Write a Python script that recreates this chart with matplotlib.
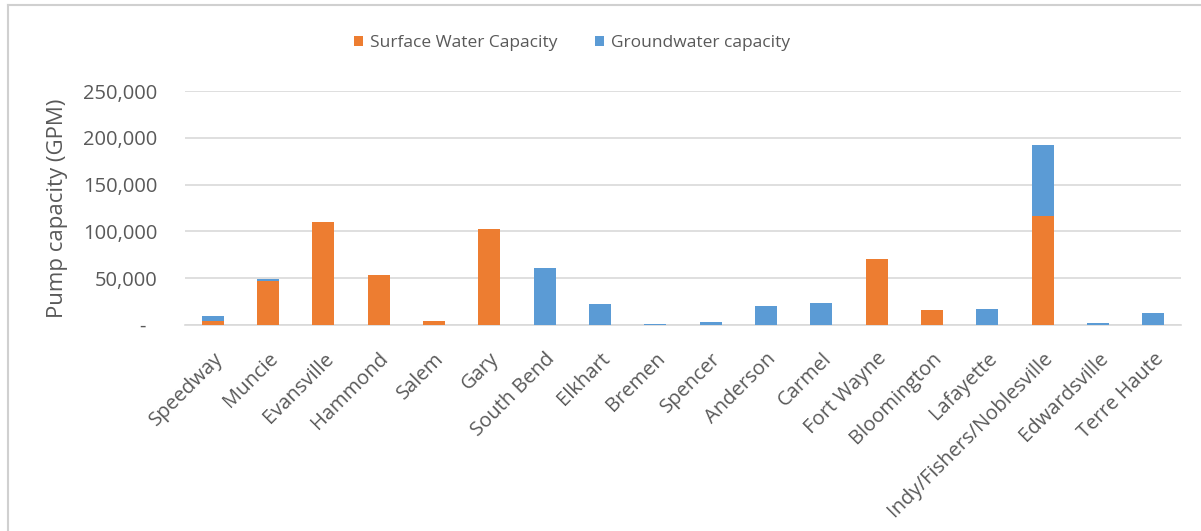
import numpy as np
import matplotlib.pyplot as plt
from matplotlib.ticker import FuncFormatter
from matplotlib.lines import Line2D

cities = ["Speedway", "Muncie", "Evansville", "Hammond", "Salem", "Gary",
          "South Bend", "Elkhart", "Bremen", "Spencer", "Anderson", "Carmel",
          "Fort Wayne", "Bloomington", "Lafayette", "Indy/Fishers/Noblesville",
          "Edwardsville", "Terre Haute"]
surface = [4000, 47000, 110000, 53000, 4000, 103000,
           0, 0, 0, 0, 0, 0,
           71000, 16000, 0, 116000,
           0, 0]
ground = [5500, 2000, 0, 0, 0, 0,
          61000, 22000, 1500, 3300, 19800, 23500,
          0, 0, 17000, 76500,
          2000, 12800]
yticks = [0, 50000, 100000, 150000, 200000, 250000]

ORANGE = "#ED7D31"
BLUE = "#5B9BD5"
TXT = "#595959"

plt.rcParams['font.family'] = ['Open Sans', 'DejaVu Sans']

fig = plt.figure(figsize=(12.01, 5.31), dpi=100)
ax = fig.add_axes([185/1201, 1-325/531, (1181-185)/1201, (325-91)/531])

x = np.arange(len(cities))
ax.bar(x, surface, width=0.4, color=ORANGE, label="Surface Water Capacity", zorder=3)
ax.bar(x, ground, width=0.4, bottom=surface, color=BLUE, label="Groundwater capacity", zorder=3)

ax.set_xlim(-0.5, len(cities)-0.5)
ax.set_ylim(0, 250000)
ax.set_yticks(yticks)
ax.yaxis.set_major_formatter(FuncFormatter(lambda v, p: "-  " if v == 0 else f"{int(v):,}"))
ax.grid(axis='y', color="#D9D9D9", linewidth=1.2, zorder=0)
for s in ["top", "right", "left"]:
    ax.spines[s].set_visible(False)
ax.spines["bottom"].set_color("#D9D9D9")
ax.spines["bottom"].set_linewidth(1.2)
ax.tick_params(axis='both', length=0, colors=TXT, labelsize=14.5)
ax.tick_params(axis='y', pad=20)
ax.set_xticks(x)
ax.set_xticklabels(cities, rotation=45, ha='right', rotation_mode='anchor')
ax.tick_params(axis='x', pad=17)
ax.set_ylabel("Pump capacity (GPM)", fontsize=16, color=TXT)
ax.yaxis.set_label_coords(-0.1175, 0.5)

fig.legend(loc='center', bbox_to_anchor=(572/1201, 1-43/531), ncol=2, frameon=False,
           fontsize=12.5, handlelength=0.5, handleheight=0.5, handletextpad=0.4,
           columnspacing=2.2, labelcolor=TXT)

# chart border
fig.add_artist(Line2D([8/1201, 1], [1-5/531, 1-5/531], transform=fig.transFigure, color="#D0D0D0", lw=1.5))
fig.add_artist(Line2D([8/1201, 8/1201], [0, 1-5/531], transform=fig.transFigure, color="#D0D0D0", lw=1.5))

fig.savefig("out.png", dpi=100)
